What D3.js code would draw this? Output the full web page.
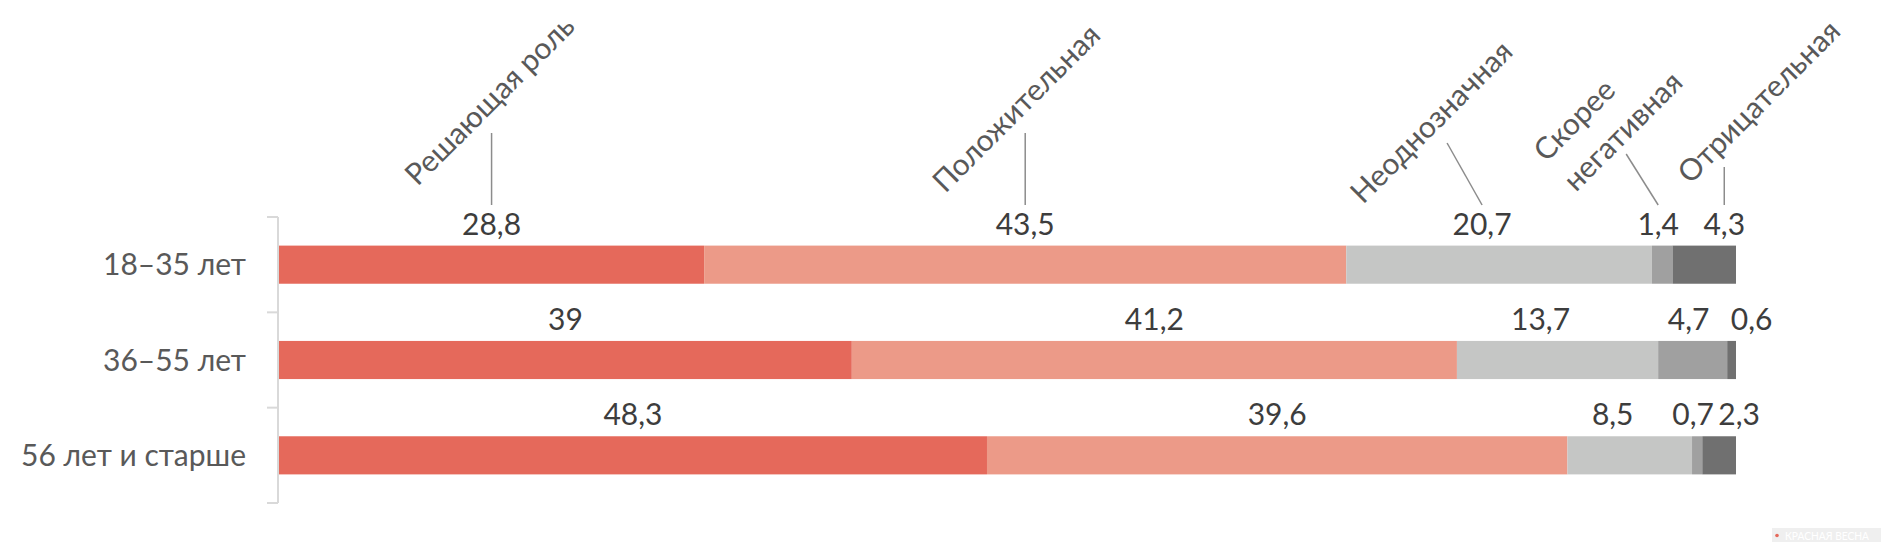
<!DOCTYPE html>
<html lang="ru">
<head>
  <meta charset="UTF-8">
  <title>Оценка роли — по возрастам</title>
  <style>
    body {
      margin: 0;
      background: #fff;
      font-family: 'Lato', 'Open Sans', sans-serif;
    }
    .value { fill: #3d3d3d; font-size: 30px; }
    .cat { fill: #595959; font-size: 30px; }
    .group { fill: #595959; font-size: 30px; }
    .leader { stroke: #8c8c8c; stroke-width: 1.5; fill: none; }
    .axis-line { stroke: #d9d9d9; stroke-width: 2; }
  </style>
  <script src="https://d3js.org/d3.v7.min.js"></script>
</head>
<body>
  <svg id="chart" width="1881" height="542"></svg>

  <script>
    // age groups (rows)
    const groups = ['18–35 лет', '36–55 лет', '56 лет и старше'];
    // answer categories (series)
    const series = ['Решающая роль', 'Положительная', 'Неоднозначная', 'Скорее негативная', 'Отрицательная'];
    const colors = ['#e5695b', '#ec9a88', '#c5c6c5', '#a0a0a0', '#707070'];

    // percent values, one array per age group
    const young = [28.8, 43.5, 20.7, 1.4, 4.3];
    const middle = [39, 41.2, 13.7, 4.7, 0.6];
    const older = [48.3, 39.6, 8.5, 0.7, 2.3];
    const values = [young, middle, older];

    // layout tweaks per series (pixels)
    const labelNudge = [0, 0, -17, -4, 20];
    const leaderTop = [133, 133, 143, 154, 167];
    const leaderLean = [0, 0, -35, -32, 0];
    const catOffset = [[-74, 54], [-80, 61], [-84, 62], [-80, 9], [-34, 18]];

    const svg = d3.select('#chart');
    const x = d3.scaleLinear().domain([0, 100]).range([279, 1736]);
    const y = d3.scaleBand().domain(groups).range([217, 503]).paddingInner(0.6).paddingOuter(0.3);

    // left axis
    const axis = svg.append('g');
    axis.append('line').attr('class', 'axis-line')
      .attr('x1', 278).attr('x2', 278).attr('y1', 217).attr('y2', 503);
    const step = y.step();
    d3.range(groups.length + 1).forEach(i => {
      const ty = 217 + i * step;
      axis.append('line').attr('class', 'axis-line')
        .attr('x1', 267).attr('x2', 278).attr('y1', ty).attr('y2', ty);
    });

    groups.forEach((g, gi) => {
      const total = d3.sum(values[gi]);
      let acc = 0;
      const row = svg.append('g');
      values[gi].forEach((v, si) => {
        const x0 = x(acc / total * 100);
        acc += v;
        const x1 = x(acc / total * 100);
        row.append('rect')
          .attr('x', x0).attr('width', x1 - x0)
          .attr('y', y(g)).attr('height', y.bandwidth())
          .attr('fill', colors[si]);
        const lx = (x0 + x1) / 2 + labelNudge[si];
        row.append('text').attr('class', 'value')
          .attr('x', lx).attr('y', y(g) - 11)
          .attr('text-anchor', 'middle')
          .text(String(v).replace('.', ','));

        if (gi === 0) {
          const tx = lx + leaderLean[si];
          svg.append('line').attr('class', 'leader')
            .attr('x1', lx).attr('y1', 205)
            .attr('x2', tx).attr('y2', leaderTop[si]);
          const px = tx + catOffset[si][0], py = leaderTop[si] + catOffset[si][1];
          const t = svg.append('text').attr('class', 'cat')
            .attr('transform', `translate(${px},${py}) rotate(-45)`);
          const words = series[si] === 'Скорее негативная' ? ['Скорее', 'негативная'] : [series[si]];
          words.forEach((w, wi) => {
            t.append('tspan').attr('x', 0).attr('dy', wi ? 42 : 0).text(w);
          });
        }
      });
      svg.append('text').attr('class', 'group')
        .attr('x', 246).attr('y', y(g) + y.bandwidth() / 2)
        .attr('dy', '0.35em').attr('text-anchor', 'end')
        .text(g);
    });

    // watermark
    const wm = svg.append('g');
    wm.append('rect').attr('x', 1772).attr('y', 528).attr('width', 109).attr('height', 14).attr('fill', '#efefef');
    wm.append('circle').attr('cx', 1777).attr('cy', 535.5).attr('r', 1.8).attr('fill', '#e5695b');
    wm.append('text').attr('x', 1785).attr('y', 540).attr('fill', '#fff')
      .attr('textLength', 84).attr('lengthAdjust', 'spacingAndGlyphs')
      .style('font-size', '11px').text('КРАСНАЯ ВЕСНА');
  </script>
</body>
</html>
